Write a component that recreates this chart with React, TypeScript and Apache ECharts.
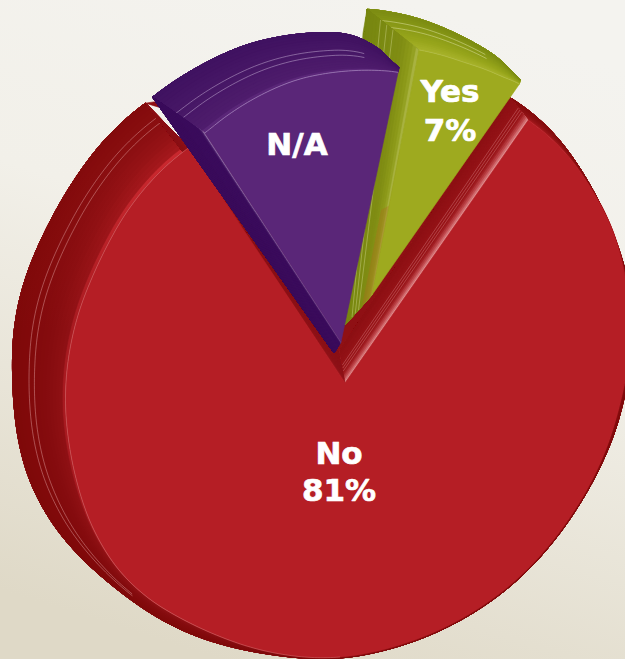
import React, { useEffect, useRef } from "react";
import * as echarts from "echarts";

const categories = ["No", "N/A", "Yes"];
const percentValues = [81, 12, 7];
const showPercent = [true, false, true];
const drawOrder = [0, 2, 1];
const firstAngle = 55;

type Knots = number[][];
const sliceShapes: any[] = [
  {
    apex: [345, 383], turn: 0, rot: 0.1, stretch: 1, backFrom: 60, backTo: -234.5, smooth: 7,
    face: "#b51e25", edge: "rgba(240,175,175,0.32)",
    edgeRange: [0.5, 1],
    ribbon: [[0, "#a81a20"], [0.04, "#8f1014"], [0.35, "#850b0e"], [1, "#7e0808"]],
    ribbonUpper: [[0, "#c8282e"], [0.05, "#a5181c"], [0.3, "#941215"], [0.6, "#8a0e10"], [1, "#820a0b"]],
    upperBand: [330, 170],
    lines: [{ at: 0.6, from: 0.66, to: 1 }, { at: 0.7, from: 0.66, to: 1 }],
    lineColor: "rgba(240,185,185,0.5)",
    front: [[55.3, 320], [48.4, 321], [38, 313], [29, 309], [20.2, 298], [10.5, 292], [0.6, 280], [-3.5, 275.5], [-21.4, 265], [-35, 260.5], [-50, 260.6], [-64.5, 262.6], [-80, 268], [-92, 275], [-120.7, 284], [-135.7, 294], [-146.2, 293], [-164.8, 283], [-177, 280], [-186.8, 277], [-206, 273], [-220.3, 278], [-236.4, 283]],
    back: [[60, 330], [53.7, 329], [44.1, 320], [34.9, 311], [22, 302], [10.5, 294], [0.6, 282], [-21.4, 266], [-35, 261.5], [-50, 261.6], [-64.5, 263.6], [-80, 269], [-92, 276], [-99.4, 278], [-110, 284], [-119.6, 293], [-130.3, 301.5], [-140.4, 309], [-150, 321], [-158.5, 328], [-166, 332], [-175.8, 331], [-185.7, 333.6], [-193.7, 337], [-203.4, 335.5], [-214.3, 337], [-226.8, 343], [-234.5, 344]],
    hollow: { fill: "#8f1014", shoulder: [[178, 120], [160, 101]], top: [[300, 150], [400, 150]] },
    walls: [
      { end: 0, backApex: [340, 350], stops: [[0, "#e08a8c"], [0.12, "#c04a4f"], [0.28, "#9a1519"], [1, "#8c0f13"]], lines: [0.36, 0.45, 0.54] },
      { end: 1, backApex: [338, 352], stops: [[0, "#a01a20"], [0.15, "#8e1218"], [1, "#8a1015"]] },
    ],
    labelAt: [339, 453],
    labelGap: 37,
  },
  {
    apex: [341, 342], turn: 360, rot: -1.25, stretch: 1.042, backFrom: 127.6, backTo: 78.1, smooth: 3,
    face: "#5a2678", edge: "rgba(160,125,185,0.9)",
    edgeRange: [0, 1],
    ribbon: [[0, "#5a2678"], [0.06, "#4e1c6c"], [0.5, "#471766"], [1, "#3f1160"]],
    lines: [{ at: 0.42, from: 0, to: 0.85 }, { at: 0.55, from: 0, to: 0.85 }],
    lineColor: "rgba(205,185,220,0.6)",
    front: [[123, 249], [111.5, 257], [99.5, 266], [90.9, 270], [78.1, 276]],
    back: [[127.6, 309], [117.6, 310], [107.5, 312], [98.2, 311], [88.9, 309], [84.5, 301], [79.6, 287], [78.1, 276]],
    walls: [
      { end: 0, backApex: [334, 353], stops: [[0, "#8f6ea6"], [0.07, "#3b0c5c"], [1, "#3a0b5b"]] },
    ],
    labelAt: [297, 144],
    labelGap: 38,
  },
  {
    apex: [372, 295], turn: 360, rot: -0.5, stretch: 0.956, backFrom: 91, backTo: 55.5, smooth: 2,
    face: "#9eaa1f", edge: "rgba(190,200,90,0.6)",
    edgeRange: [0, 1],
    ribbon: [[0, "#a7b22a"], [0.25, "#98a61c"], [0.6, "#8a9a17"], [1, "#7a8a12"]],
    lines: [{ at: 0.55, from: 0, to: 0.7 }, { at: 0.72, from: 0, to: 0.7 }],
    lineColor: "rgba(215,220,150,0.7)",
    front: [[79.1, 249.5], [68.7, 250], [58.5, 254.5], [55, 258]],
    back: [[91, 286], [81.6, 281], [70.6, 273.6], [62.3, 269], [55.5, 261]],
    walls: [
      { end: 0, backApex: [345, 325], extra: [363, 33], stops: [[0, "#a8b240"], [0.08, "#8f9c1a"], [0.3, "#808d14"], [1, "#76860f"]], lines: [0.5, 0.62, 0.74], wallLine: "rgba(215,220,150,0.6)" },
    ],
    tint: { fill: "rgba(175,105,30,0.35)", points: [[390, 205], [372, 295], [362, 306], [381, 210]] },
    labelAt: [450, 91],
    labelGap: 39,
  },
];

const lerp = (a: number, b: number, t: number) => a + (b - a) * t;
const mix = (p: number[], q: number[], t: number) => [lerp(p[0], q[0], t), lerp(p[1], q[1], t)];
const rgb = (h: string) => [1, 3, 5].map((i) => parseInt(h.slice(i, i + 2), 16));
function ramp(stops: any[], t: number) {
  let k = 0;
  while (k < stops.length - 2 && t > stops[k + 1][0]) k++;
  const [a, ca] = stops[k];
  const [b, cb] = stops[k + 1];
  const u = Math.min(1, Math.max(0, (t - a) / (b - a)));
  const x = rgb(ca), y = rgb(cb);
  return `rgb(${x.map((v, i) => Math.round(lerp(v, y[i], u))).join(",")})`;
}
function radiusAt(knots: Knots, angle: number) {
  const sorted = [...knots].sort((a, b) => b[0] - a[0]);
  if (angle >= sorted[0][0]) return sorted[0][1];
  for (let i = 1; i < sorted.length; i++) {
    if (angle >= sorted[i][0]) {
      const u = (angle - sorted[i - 1][0]) / (sorted[i][0] - sorted[i - 1][0]);
      return lerp(sorted[i - 1][1], sorted[i][1], u);
    }
  }
  return sorted[sorted.length - 1][1];
}
// Moving average over the outline profile so the arc has no kinks.
function smoothRadius(knots: Knots, angle: number, w: number) {
  let sum = 0;
  const steps = 8;
  for (let k = -steps; k <= steps; k++) sum += radiusAt(knots, angle + (k / steps) * w);
  return sum / (2 * steps + 1);
}
function polar(apex: number[], angle: number, r: number) {
  const rad = (angle * Math.PI) / 180;
  return [apex[0] + r * Math.cos(rad), apex[1] - r * Math.sin(rad)];
}

// Angular extent of each category, clockwise from firstAngle, from its value.
const total = percentValues.reduce((a, b) => a + b, 0);
const sweeps = percentValues.map((v) => (v / total) * 360);
const starts = sweeps.map((_, i) => firstAngle - sweeps.slice(0, i).reduce((a, b) => a + b, 0));

function sliceElements(i: number) {
  const s = sliceShapes[i];
  const startA = starts[i] + s.turn;
  const sweep = sweeps[i];
  const mid = startA - sweep / 2 + s.rot;
  const half = (sweep / 2) * s.stretch;
  const n = Math.max(24, Math.round(sweep * 1.5));
  const front: number[][] = [];
  const back: number[][] = [];
  for (let k = 0; k <= n; k++) {
    const t = k / n;
    const fa = mid + half - 2 * half * t;
    front.push(polar(s.apex, fa, smoothRadius(s.front, fa, s.smooth)));
    const ba = lerp(s.backFrom, s.backTo, t);
    back.push(polar(s.apex, ba, smoothRadius(s.back, ba, s.smooth)));
  }
  const out: any[] = [];
  const poly = (points: number[][], fill: any) => out.push({ type: "polygon", silent: true, shape: { points }, style: { fill, stroke: fill, lineWidth: 0.6 } });
  const line = (points: number[][], stroke: string, w = 0.8) => out.push({ type: "polyline", silent: true, shape: { points }, style: { fill: "none", stroke, lineWidth: w } });

  if (s.hollow) {
    poly([s.apex, front[n], ...s.hollow.shoulder, back[n], ...s.hollow.top, back[0], front[0]], s.hollow.fill);
  }

  const L = 16;
  for (let k = 0; k < L; k++) {
    const a = k / L;
    const inner = front.map((p, j) => mix(p, back[j], a));
    const base = ramp(s.ribbon, a);
    const fill = s.ribbonUpper
      ? new echarts.graphic.LinearGradient(0, s.upperBand[0], 0, s.upperBand[1], [
          { offset: 0, color: base },
          { offset: 1, color: ramp(s.ribbonUpper, a) },
        ], true)
      : base;
    poly([...inner, ...[...back].reverse()], fill);
  }
  s.lines.forEach((l: any) => {
    const pts = front.map((p, j) => mix(p, back[j], l.at));
    line(pts.slice(Math.round(l.from * n), Math.round(l.to * n) + 1), s.lineColor, 0.8);
  });
  s.walls.forEach((w: any) => {
    const idx = w.end === 0 ? 0 : n;
    const p0 = s.apex, p1 = front[idx], q0 = w.backApex, q1 = back[idx];
    if (w.extra) poly([q0, w.extra, q1, p1, p0], ramp(w.stops, 1));
    const M = 16;
    for (let k = 0; k < M; k++) {
      const a = k / M;
      poly([mix(p0, q0, a), mix(p1, q1, a), q1, q0], ramp(w.stops, a));
    }
    (w.lines || []).forEach((a: number) => line([mix(p0, q0, a), mix(p1, q1, a)], w.wallLine || "rgba(235,170,170,0.45)", 0.7));
  });
  if (s.tint) out.push({ type: "polygon", silent: true, shape: { points: s.tint.points }, style: { fill: s.tint.fill } });
  poly([s.apex, ...front], s.face);
  const e = s.edgeRange;
  line(front.slice(Math.round(e[0] * n), Math.round(e[1] * n) + 1), s.edge, 0.9);
  const font = 'bold 31px "DejaVu Sans", sans-serif';
  const text = (str: string, x: number, y: number) =>
    out.push({ type: "text", silent: true, z2: 10, style: { text: str, x, y, fill: "#ffffff", stroke: "#ffffff", lineWidth: 0.7, font, textAlign: "center", textVerticalAlign: "middle" } });
  text(categories[i], s.labelAt[0], s.labelAt[1]);
  if (showPercent[i]) text(`${percentValues[i]}%`, s.labelAt[0], s.labelAt[1] + s.labelGap);
  return out;
}

export default function App() {
  const ref = useRef<HTMLDivElement>(null);
  useEffect(() => {
    const chart = echarts.init(ref.current!, undefined, { renderer: "svg" });
    chart.setOption({
      animation: false,
      backgroundColor: new echarts.graphic.LinearGradient(0.65, 0, 0.35, 1, [
        { offset: 0, color: "#f4f3ef" },
        { offset: 0.4, color: "#f2f0e9" },
        { offset: 1, color: "#dfd9c7" },
      ]),
      series: [
        {
          type: "custom",
          coordinateSystem: "none",
          silent: true,
          clip: false,
          data: drawOrder.map((i) => ({ name: categories[i], value: [i, percentValues[i]] })),
          renderItem: (_: any, api: any) => ({ type: "group", children: sliceElements(api.value(0)) }),
        },
      ],
    });
    return () => chart.dispose();
  }, []);
  return <div ref={ref} style={{ position: "fixed", left: 0, top: 0, width: 625, height: 659 }} />;
}
